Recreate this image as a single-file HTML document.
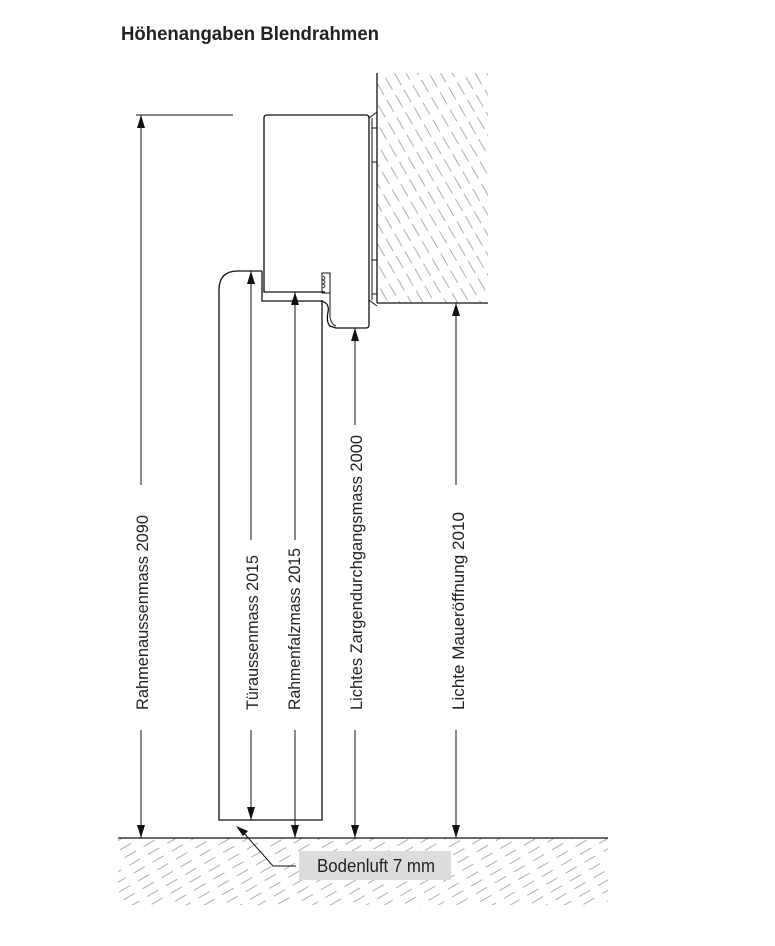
<!DOCTYPE html>
<html><head><style>
body{margin:0;background:#fff;}
svg{display:block;}
text{font-family:"Liberation Sans Narrow","Liberation Sans",sans-serif;fill:#222;}
</style></head><body>
<svg width="775" height="946" viewBox="0 0 775 946" xmlns="http://www.w3.org/2000/svg">
<defs>
<pattern id="wh" width="10" height="20" patternUnits="userSpaceOnUse" patternTransform="rotate(-30)">
<line x1="5" y1="0" x2="5" y2="14" stroke="#999" stroke-width="0.8"/>
</pattern>
<pattern id="fh" width="9" height="22" patternUnits="userSpaceOnUse" patternTransform="rotate(60)">
<line x1="4" y1="0" x2="4" y2="13" stroke="#999" stroke-width="0.8"/>
</pattern>
</defs>
<text x="121" y="40" font-size="19" font-weight="bold" textLength="258" lengthAdjust="spacingAndGlyphs">Höhenangaben Blendrahmen</text>

<rect x="377" y="73" width="111" height="230" fill="url(#wh)"/>
<line x1="377" y1="73" x2="377" y2="303" stroke="#111" stroke-width="1.3"/>
<line x1="377" y1="303" x2="488" y2="303" stroke="#111" stroke-width="1.3"/>
<path d="M369,118 L377,112 M372,118 V300 M369,300 L377,306 M372,128 H377 M372,162 H377 M372,260 H377 M372,294 H377" stroke="#111" stroke-width="1" fill="none"/>

<rect x="118" y="838" width="490" height="67" fill="url(#fh)"/>
<line x1="118" y1="838" x2="608" y2="838" stroke="#111" stroke-width="1.3"/>

<path d="M267,115 H366 Q369,115 369,118 V325 Q369,328 366,328 H335 M264,118 Q264,115 267,115 M264,118 V292 H325 M262,271 V301 H318 Q330,301 328,312 Q326,322 330,326 L336,328" stroke="#111" stroke-width="1.3" fill="none"/>
<rect x="322" y="273" width="8" height="20" fill="none" stroke="#111" stroke-width="1"/>
<path d="M323,276 q4,2 0,4 q4,2 0,4 q4,2 0,4" stroke="#111" stroke-width="0.8" fill="none"/>
<path d="M330,293 V318 Q332,325 336,326" stroke="#111" stroke-width="1" fill="none"/>

<path d="M219,290 Q219,271 238,271 H262 M219,290 V820 H322 V300" stroke="#111" stroke-width="1.3" fill="none"/>

<g stroke="#111" stroke-width="1" fill="none">
<line x1="136" y1="115" x2="233" y2="115"/>
<line x1="141" y1="115" x2="141" y2="485"/>
<line x1="141" y1="730" x2="141" y2="838"/>
<line x1="251" y1="271" x2="251" y2="540"/>
<line x1="251" y1="730" x2="251" y2="820"/>
<line x1="295" y1="292" x2="295" y2="540"/>
<line x1="295" y1="730" x2="295" y2="838"/>
<line x1="355" y1="328" x2="355" y2="425"/>
<line x1="355" y1="730" x2="355" y2="838"/>
<line x1="456" y1="303" x2="456" y2="485"/>
<line x1="456" y1="730" x2="456" y2="838"/>
</g>
<g fill="#111">
<path d="M141,115 l-4,13 h8 Z"/><path d="M141,838 l-4,-13 h8 Z"/>
<path d="M251,271 l-4,13 h8 Z"/><path d="M251,820 l-4,-13 h8 Z"/>
<path d="M295,292 l-4,13 h8 Z"/><path d="M295,838 l-4,-13 h8 Z"/>
<path d="M355,328 l-4,13 h8 Z"/><path d="M355,838 l-4,-13 h8 Z"/>
<path d="M456,303 l-4,13 h8 Z"/><path d="M456,838 l-4,-13 h8 Z"/>
</g>
<text transform="translate(148,710) rotate(-90)" font-size="17" textLength="195" lengthAdjust="spacingAndGlyphs">Rahmenaussenmass 2090</text>
<text transform="translate(258,710) rotate(-90)" font-size="17" textLength="155" lengthAdjust="spacingAndGlyphs">Türaussenmass 2015</text>
<text transform="translate(300,710) rotate(-90)" font-size="17" textLength="162" lengthAdjust="spacingAndGlyphs">Rahmenfalzmass 2015</text>
<text transform="translate(362,710) rotate(-90)" font-size="17" textLength="275" lengthAdjust="spacingAndGlyphs">Lichtes Zargendurchgangsmass 2000</text>
<text transform="translate(464,710) rotate(-90)" font-size="17" textLength="198" lengthAdjust="spacingAndGlyphs">Lichte Maueröffnung 2010</text>

<rect x="299" y="851" width="152" height="29" fill="#dcdcdc"/>
<text x="317" y="872" font-size="18" textLength="118" lengthAdjust="spacingAndGlyphs">Bodenluft 7 mm</text>
<polyline points="296,866 273,866 243,832" stroke="#111" stroke-width="1" fill="none"/>
<path d="M236,826 L248,831 L243,836 Z" fill="#111"/>
</svg>
</body></html>
